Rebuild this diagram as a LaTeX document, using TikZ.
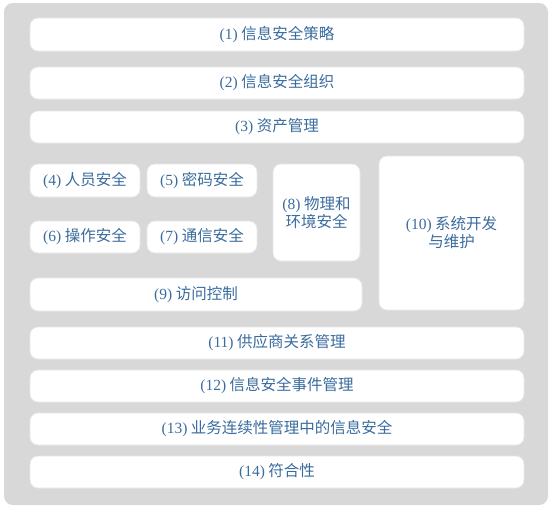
\documentclass[tikz,border=0pt]{standalone}
\usepackage{fontspec}
\setmainfont{Noto Sans CJK SC}
\newfontfamily\numfont{Liberation Serif}
\newcommand{\pnum}[1]{{\numfont(#1)}}
\definecolor{panelgray}{RGB}{216,216,216}
\definecolor{textblue}{RGB}{58,108,158}
\definecolor{edgegray}{RGB}{232,232,232}
\tikzset{
  part/.style={draw=edgegray,line width=.8pt,fill=white,rounded corners=8pt,
    text=textblue,font=\fontsize{15.5}{18}\selectfont,align=center,
    inner sep=0pt,anchor=center},
}
\begin{document}
\begin{tikzpicture}[x=1pt,y=-1pt]
  \useasboundingbox (0,0) rectangle (554,512);
  \fill[panelgray,rounded corners=9pt] (4,3) rectangle (548,505);
  % full-width rows
  \node[part,minimum width=494pt,minimum height=33pt] (p1) at (277,34.5) {\pnum{1} 信息安全策略};
  \node[part,minimum width=494pt,minimum height=32pt] (p2) at (277,83) {\pnum{2} 信息安全组织};
  \node[part,minimum width=494pt,minimum height=32pt] (p3) at (277,127) {\pnum{3} 资产管理};
  % middle block
  \node[part,minimum width=110pt,minimum height=33pt] (p4) at (85,180.5) {\pnum{4} 人员安全};
  \node[part,minimum width=110pt,minimum height=33pt] (p5) at (202,180.5) {\pnum{5} 密码安全};
  \node[part,minimum width=110pt,minimum height=32pt] (p6) at (85,237) {\pnum{6} 操作安全};
  \node[part,minimum width=110pt,minimum height=32pt] (p7) at (202,237) {\pnum{7} 通信安全};
  \node[part,minimum width=87pt,minimum height=97pt] (p8) at (316.5,212.5) {\pnum{8} 物理和\\环境安全};
  \node[part,minimum width=332pt,minimum height=33pt] (p9) at (196,294.5) {\pnum{9} 访问控制};
  \node[part,minimum width=145pt,minimum height=154pt] (p10) at (451.5,233) {\pnum{10} 系统开发\\与维护};
  % lower rows
  \node[part,minimum width=494pt,minimum height=32pt] (p11) at (277,343) {\pnum{11} 供应商关系管理};
  \node[part,minimum width=494pt,minimum height=32pt] (p12) at (277,386) {\pnum{12} 信息安全事件管理};
  \node[part,minimum width=494pt,minimum height=32pt] (p13) at (277,429) {\pnum{13} 业务连续性管理中的信息安全};
  \node[part,minimum width=494pt,minimum height=32pt] (p14) at (277,472) {\pnum{14} 符合性};
\end{tikzpicture}
\end{document}
